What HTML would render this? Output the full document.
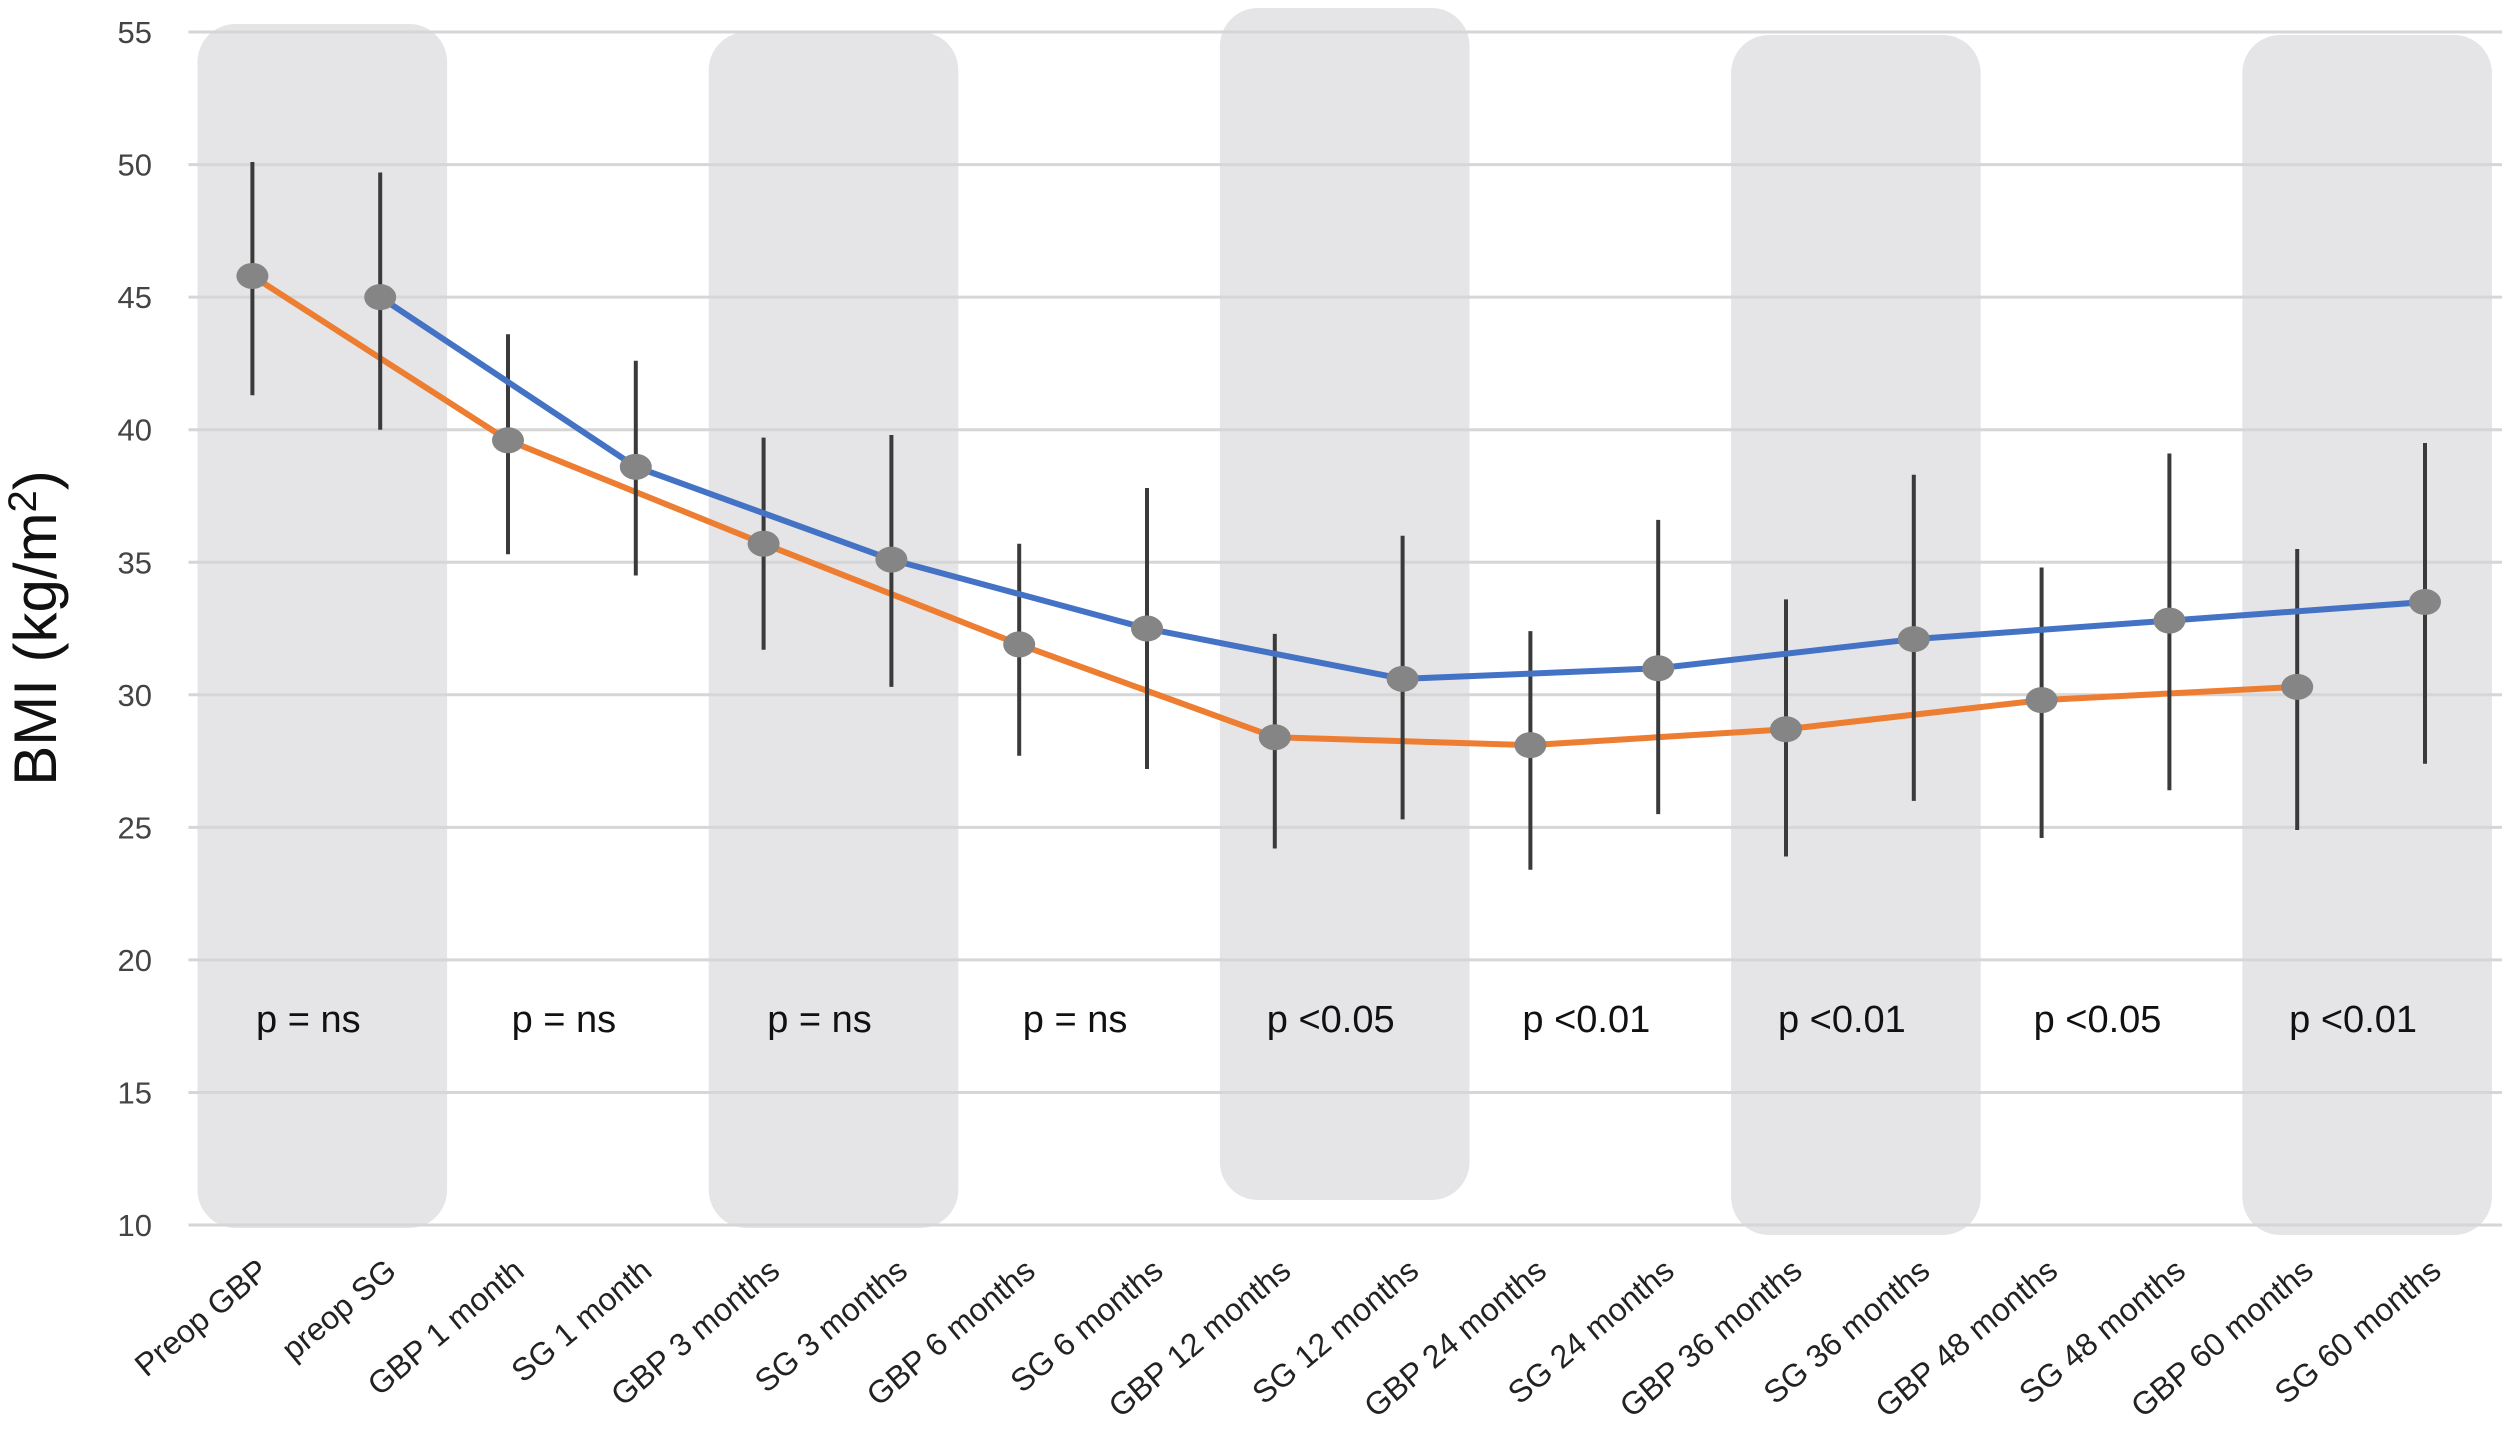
<!DOCTYPE html>
<html><head><meta charset="utf-8"><style>
html,body{margin:0;padding:0;background:#fff;}
svg{display:block;font-family:"Liberation Sans",sans-serif;}
</style></head><body>
<svg id="chart" width="2505" height="1452" viewBox="0 0 2505 1452" xmlns="http://www.w3.org/2000/svg">
<g id="bands"></g>
<g id="grid"></g>
<g id="yticks"></g>
<g id="xlabels"></g>
<g id="plabels"></g>
<g id="series"></g>
<text transform="translate(56,628) rotate(-90)" text-anchor="middle" font-size="60" fill="#111">BMI (kg/m<tspan font-size="40" dy="-20">2</tspan><tspan dy="20">)</tspan></text>
</svg>
<script>
const categories = ["Preop GBP","preop SG","GBP 1 month","SG 1 month","GBP 3 months","SG 3 months","GBP 6 months","SG 6 months","GBP 12 months","SG 12 months","GBP 24 months","SG 24 months","GBP 36 months","SG 36 months","GBP 48 months","SG 48 months","GBP 60 months","SG 60 months"];
const gbpMean = [45.8,39.6,35.7,31.9,28.4,28.1,28.7,29.8,30.3];
const gbpLow  = [41.3,35.3,31.7,27.7,24.2,23.4,23.9,24.6,24.9];
const gbpHigh = [50.1,43.6,39.7,35.7,32.3,32.4,33.6,34.8,35.5];
const sgMean = [45.0,38.6,35.1,32.5,30.6,31.0,32.1,32.8,33.5];
const sgLow  = [40.0,34.5,30.3,27.2,25.3,25.5,26.0,26.4,27.4];
const sgHigh = [49.7,42.6,39.8,37.8,36.0,36.6,38.3,39.1,39.5];
const yTicks = [10,15,20,25,30,35,40,45,50,55];
const pLabels = ["p = ns","p = ns","p = ns","p = ns","p <0.05","p <0.01","p <0.01","p <0.05","p <0.01"];
const bandPairs = [0,4,8,12,16];

const NS="http://www.w3.org/2000/svg";
const X0=188.5, BW=127.8, Y10=1225, PER=26.51;
const xs=i=>X0+BW*(i+0.5);
const ys=v=>Y10-(v-10)*PER;
function mk(tag,attrs,parent){const e=document.createElementNS(NS,tag);for(const k in attrs)e.setAttribute(k,attrs[k]);parent.appendChild(e);return e;}

const bands=document.getElementById('bands');
bandPairs.forEach((p,k)=>{
  const top = k===2?8:(k===0?24:(k===1?32:35));
  const bot = k===2?1200:(k>=3?1235:1228);
  const r=mk('rect',{x:X0+BW*p+9,y:top,width:BW*2-6,height:bot-top,rx:38,fill:'#e5e4e6'},bands);
  
  
});
const grid=document.getElementById('grid'), yt=document.getElementById('yticks');
yTicks.forEach(v=>{
  const l=mk('line',{x1:X0,x2:2502,y1:ys(v),y2:ys(v),stroke:'#d6d6d6','stroke-width':3},grid);
  
  
  const t=mk('text',{x:152,y:ys(v)+11,'text-anchor':'end','font-size':31,fill:'#444'},yt);
  
  
  t.textContent=v;
});
const xl=document.getElementById('xlabels');
categories.forEach((c,i)=>{
  const ex=xs(i)+18, ey=1274;
  const t=mk('text',{x:ex,y:ey,'text-anchor':'end','font-size':32,fill:'#222',transform:`rotate(-40 ${ex} ${ey})`},xl);
  
  
  t.textContent=c;
});
const pl=document.getElementById('plabels');
pLabels.forEach((p,k)=>{
  const t=mk('text',{x:X0+BW*(2*k+1)-8,y:1032,'text-anchor':'middle','font-size':38,fill:'#111'},pl);
  
  
  t.textContent=p;
});
const ser=document.getElementById('series');
function drawSeries(mean,low,high,offset,color,name){
  const g=mk('g',{},ser);
  
  
  const pts=mean.map((v,k)=>xs(2*k+offset)+','+ys(v)).join(' ');
  const pl=mk('polyline',{points:pts,fill:'none',stroke:color,'stroke-width':6,'stroke-linejoin':'round'},g);
  
  
  mean.forEach((v,k)=>{
    const x=xs(2*k+offset);
    const e=mk('line',{x1:x,x2:x,y1:ys(low[k]),y2:ys(high[k]),stroke:'#3a3a3a','stroke-width':4},g);
    
    
    const c=mk('ellipse',{cx:x,cy:ys(v),rx:16,ry:13,fill:'#858585'},g);
    
    
  });
}
drawSeries(gbpMean,gbpLow,gbpHigh,0,'#ed7d31','gbp');
drawSeries(sgMean,sgLow,sgHigh,1,'#4472c4','sg');
</script>
</body></html>
